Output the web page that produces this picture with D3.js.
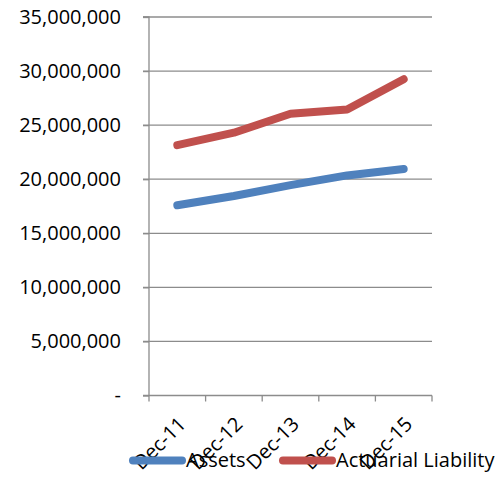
<!DOCTYPE html>
<html><head><meta charset="utf-8">
<script src="https://cdn.jsdelivr.net/npm/d3@7"></script>
<style>body{margin:0;background:#fff}svg{display:block}text{font-family:"Open Sans",sans-serif;fill:#000}</style>
</head><body><svg id="c" width="502" height="480"></svg>
<script>
const categories = ["Dec-11","Dec-12","Dec-13","Dec-14","Dec-15"];
const assets = [17590000, 18450000, 19450000, 20350000, 20950000];
const liability = [23150000, 24300000, 26050000, 26450000, 29250000];
const yTicks = [0,5000000,10000000,15000000,20000000,25000000,30000000,35000000];
const seriesNames = ["Assets","Actuarial Liability"];
const colors = ["#4F81BD","#C0504D"];

(function(){
const svg = d3.select("#c");
const pL = 149, pR = 432, pT = 17, pB = 395.5;
const x = d3.scaleBand().domain(categories).range([pL, pR]);
const y = d3.scaleLinear().domain([0, 35000000]).range([pB, pT]);
const fs = 20;

svg.append("g").selectAll("line").data(yTicks.slice(1)).join("line")
  .attr("x1", pL - 6).attr("x2", pR)
  .attr("y1", d => y(d)).attr("y2", d => y(d))
  .attr("stroke", "#8c8c8c").attr("stroke-width", 1.3);

const yAxis = d3.axisLeft(y).tickValues(yTicks).tickSize(6).tickPadding(22)
  .tickFormat(d => d === 0 ? "-" : d3.format(",")(d));
const gy = svg.append("g").attr("transform", `translate(${pL},0)`).call(yAxis);
gy.select(".domain").attr("stroke", "#8c8c8c").attr("stroke-width", 1.3).attr("d", `M-6,${pT}H0V${pB}`);
gy.selectAll(".tick line").attr("stroke", "#8c8c8c").attr("stroke-width", 1.3);
gy.selectAll(".tick text").attr("font-size", fs).attr("font-family", '"Open Sans",sans-serif').attr("fill", "#000");

const gx = svg.append("g").attr("transform", `translate(0,${pB})`);
gx.append("line").attr("x1", pL - 6).attr("x2", pR).attr("stroke", "#8c8c8c").attr("stroke-width", 1.3);
const xt = d3.range(categories.length + 1).map(i => pL + i * x.step());
gx.selectAll("line.t").data(xt).join("line").attr("class", "t")
  .attr("x1", d => d).attr("x2", d => d).attr("y1", 0).attr("y2", 6)
  .attr("stroke", "#8c8c8c").attr("stroke-width", 1.3);
gx.selectAll("text").data(categories).join("text")
  .attr("transform", d => `translate(${x(d) + x.bandwidth() / 2},${20}) rotate(-45)`)
  .attr("text-anchor", "end").attr("dy", "0.7em").attr("font-size", fs).text(d => d);

const line = d3.line().x((d, i) => x(categories[i]) + x.bandwidth() / 2).y(d => y(d));
[assets, liability].forEach((s, k) => {
  svg.append("path").datum(s).attr("d", line).attr("fill", "none")
    .attr("stroke", colors[k]).attr("stroke-width", 8)
    .attr("stroke-linecap", "round").attr("stroke-linejoin", "round");
});

const leg = [{x: 133, name: seriesNames[0], c: colors[0]}, {x: 283, name: seriesNames[1], c: colors[1]}];
const lg = svg.append("g");
leg.forEach(l => {
  lg.append("line").attr("x1", l.x).attr("x2", l.x + 49).attr("y1", 460.5).attr("y2", 460.5)
    .attr("stroke", l.c).attr("stroke-width", 8).attr("stroke-linecap", "round");
  lg.append("text").attr("x", l.x + 53).attr("y", 467).attr("font-size", fs).text(l.name);
});
})();
</script></body></html>
